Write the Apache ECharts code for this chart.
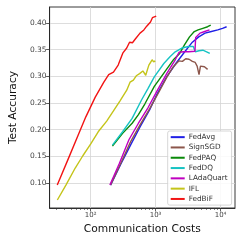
<!DOCTYPE html>
<html><head><meta charset="utf-8">
<script src="https://cdn.jsdelivr.net/npm/echarts@6/dist/echarts.min.js"></script>
<style>html,body{margin:0;padding:0;background:#fff}#c{width:242px;height:242px}</style>
</head><body><div id="c"></div>
<script>
const seriesNames = ['FedAvg','SignSGD','FedPAQ','FedDQ','LAdaQuart','IFL','FedBiF'];
const seriesColors = ['#1f1fe6','#8c564b','#0a8a0a','#17c3c3','#c000c0','#c4c41a','#f21414'];

const fedAvgX = [203,294,412,577,809,1059,1484,2078,2815,3687,4620,5772,7235,9068,10733,12407];
const fedAvgY = [0.096,0.136,0.171,0.205,0.237,0.267,0.299,0.325,0.346,0.364,0.374,0.381,0.384,0.387,0.390,0.393];

const signSgdX = [203,294,412,577,809,1133,1499,1878,2299,2588,2912,3277,3687,4078,4363,4668,4911,5656,6323];
const signSgdY = [0.096,0.138,0.177,0.209,0.239,0.271,0.299,0.318,0.329,0.328,0.333,0.332,0.328,0.326,0.319,0.303,0.319,0.318,0.313];

const fedPaqX = [217,311,436,545,683,957,1341,1878,2354,2787,3333,3944,4513,5343,6323,7068];
const fedPaqY = [0.169,0.193,0.212,0.228,0.248,0.281,0.306,0.331,0.343,0.359,0.374,0.384,0.387,0.390,0.393,0.396];

const fedDqX = [217,311,436,611,756,957,1341,1681,2009,2544,3221,3813,4078,4668,5343,6112,6832];
const fedDqY = [0.171,0.196,0.221,0.256,0.276,0.299,0.324,0.337,0.346,0.353,0.356,0.356,0.346,0.348,0.349,0.346,0.343];

const lAdaQuartX = [198,278,389,545,764,1070,1499,2009,2299,2721,3221,4037,4148,4829,5715,6765];
const lAdaQuartY = [0.096,0.137,0.181,0.212,0.241,0.274,0.306,0.331,0.345,0.346,0.346,0.347,0.373,0.381,0.384,0.387];

const iflX = [30.8,41.7,58,76,100,131,177,225,284,360,405,456,505,568,638,706,748,789,836,885,935,990];
const iflY = [0.068,0.096,0.128,0.151,0.173,0.196,0.216,0.235,0.254,0.274,0.289,0.293,0.301,0.305,0.310,0.302,0.312,0.321,0.318,0.331,0.327,0.329];

const fedBifX = [30.7,46,64.5,84.5,118,160,190,225,266,315,360,398,441,488,577,661,731,836,895,957,1024];
const fedBifY = [0.096,0.147,0.190,0.224,0.261,0.289,0.303,0.308,0.321,0.344,0.353,0.364,0.363,0.370,0.381,0.387,0.394,0.402,0.410,0.408,0.413];

const xMajorTicks = [100,1000,10000];
const xMajorLabels = {100:'10²',1000:'10³',10000:'10⁴'};
const xMinorTicks = [30,40,50,60,70,80,90,200,300,400,500,600,700,800,900,2000,3000,4000,5000,6000,7000,8000,9000];
const yTicks = [0.10,0.15,0.20,0.25,0.30,0.35,0.40];

const xs = [fedAvgX,signSgdX,fedPaqX,fedDqX,lAdaQuartX,iflX,fedBifX];
const ys = [fedAvgY,signSgdY,fedPaqY,fedDqY,lAdaQuartY,iflY,fedBifY];

const font = 'DejaVu Sans';
const chart = echarts.init(document.getElementById('c'), null, {renderer:'canvas'});
chart.setOption({
  animation:false,
  backgroundColor:'#fff',
  grid:{left:39,top:7,right:7,bottom:34,show:true,borderColor:'#222',borderWidth:0.9,backgroundColor:'transparent'},
  xAxis:[{
    type:'log',logBase:10,min:23.4,max:16700,position:'bottom',
    name:'Communication Costs',nameLocation:'middle',nameGap:15,
    nameTextStyle:{fontFamily:font,fontSize:10.7,color:'#111'},
    axisLine:{show:true,lineStyle:{color:'#222',width:0.9}},
    axisTick:{show:true,length:3.5,customValues:xMajorTicks,lineStyle:{color:'#333',width:0.8}},
    axisLabel:{customValues:xMajorTicks,fontFamily:font,fontSize:7,color:'#444',margin:4,
      formatter:v=>xMajorLabels[Math.round(v)]||''},
    splitLine:{show:true,lineStyle:{color:'#d4d4d4',width:0.8}}
  },{
    type:'log',logBase:10,min:23.4,max:16700,position:'bottom',
    axisLine:{show:false},
    axisTick:{show:true,length:2,customValues:xMinorTicks,lineStyle:{color:'#333',width:0.6}},
    axisLabel:{show:false},
    splitLine:{show:false}
  }],
  yAxis:{
    type:'value',min:0.053,max:0.43,
    name:'Test Accuracy',nameLocation:'middle',nameGap:22,
    nameTextStyle:{fontFamily:font,fontSize:10.7,color:'#111'},
    axisLine:{show:true,lineStyle:{color:'#222',width:0.9}},
    axisTick:{show:true,length:3.5,customValues:yTicks,lineStyle:{color:'#333',width:0.8}},
    axisLabel:{customValues:yTicks,fontFamily:font,fontSize:7.5,color:'#444',margin:3,formatter:v=>v.toFixed(2)},
    splitLine:{show:true,lineStyle:{color:'#d4d4d4',width:0.8}}
  },
  legend:{
    orient:'vertical',left:167.7,top:131,
    data:seriesNames,
    icon:'rect',itemWidth:14,itemHeight:2,itemGap:0,
    padding:[1,4,1,3],
    backgroundColor:'rgba(255,255,255,0.85)',borderColor:'#cccccc',borderWidth:0.8,borderRadius:2,
    textStyle:{fontFamily:font,fontSize:7.3,color:'#333',lineHeight:10.3,padding:[0,0,0,-1]}
  },
  series:seriesNames.map((n,i)=>({
    name:n,type:'line',xAxisIndex:0,
    data:xs[i].map((x,j)=>[x,ys[i][j]]),
    showSymbol:false,symbol:'none',
    lineStyle:{color:seriesColors[i],width:1.4},
    itemStyle:{color:seriesColors[i]},
    z:2+i
  }))
});
</script></body></html>
